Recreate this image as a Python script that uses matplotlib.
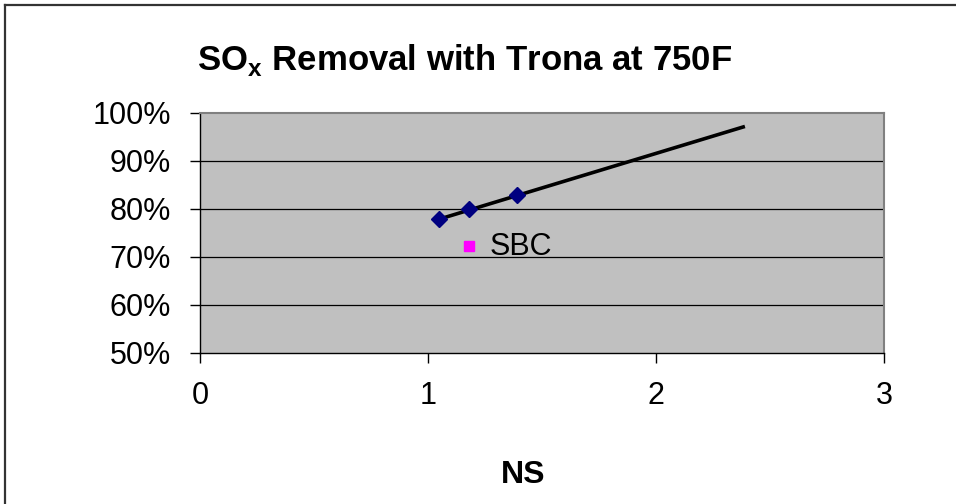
import matplotlib
matplotlib.use("Agg")
import matplotlib.pyplot as plt
from matplotlib.lines import Line2D
from matplotlib.ticker import FuncFormatter

# ---- data ----
ns_values = [1.05, 1.18, 1.39]
removal_values = [0.78, 0.80, 0.83]
trend_x = [1.05, 2.39]
trend_y = [0.779, 0.972]
sbc_x = [1.18]
sbc_y = [0.723]
sbc_label = "SBC"
x_ticks = [0, 1, 2, 3]
y_ticks = [0.5, 0.6, 0.7, 0.8, 0.9, 1.0]
title_text = r"SO$_\mathbf{x}$ Removal with Trona at 750F"
x_label = "NS"

plt.rcParams['font.family'] = ['Liberation Sans', 'DejaVu Sans']
plt.rcParams['mathtext.fontset'] = 'custom'
plt.rcParams['mathtext.rm'] = 'Liberation Sans'
plt.rcParams['mathtext.bf'] = 'Liberation Sans:bold'

W, H = 956, 504
fig = plt.figure(figsize=(W / 100, H / 100), dpi=100)
fig.patch.set_facecolor('white')

# outer frame (left and top visible)
fig.add_artist(Line2D([5 / W, 5 / W], [0, 1 - 5 / H], color='#333333', lw=1.6))
fig.add_artist(Line2D([5 / W, 1], [1 - 5 / H, 1 - 5 / H], color='#333333', lw=1.6))

left, right, top, bottom = 200, 884, 113, 353
ax = fig.add_axes([left / W, 1 - bottom / H, (right - left) / W, (bottom - top) / H])
ax.set_facecolor('#c0c0c0')
ax.set_xlim(0, 3)
ax.set_ylim(0.5, 1.0)

for y in y_ticks[1:-1]:
    ax.axhline(y, color='#000000', lw=0.9, zorder=1)

ax.plot(trend_x, trend_y, color='black', lw=2.6, zorder=3, solid_capstyle='butt')
ax.plot(ns_values, removal_values, linestyle='none', marker='D', markersize=8,
        color='#000080', markeredgecolor='#000080', zorder=4)
ax.plot(sbc_x, sbc_y, linestyle='none', marker='s', markersize=7.5,
        color='#ff00ff', markeredgecolor='#ff00ff', zorder=4)
ax.annotate(sbc_label, (sbc_x[0], sbc_y[0]), xytext=(15, -1), textcoords='offset points',
            fontsize=22, va='center', ha='left', color='black', zorder=5)

ax.set_xticks(x_ticks)
ax.set_yticks(y_ticks)
ax.yaxis.set_major_formatter(FuncFormatter(lambda v, p: f"{v*100:.0f}%"))
ax.tick_params(axis='both', direction='out', length=7, width=1, color='black',
               labelsize=22, labelcolor='black')
ax.tick_params(axis='x', pad=13)
ax.tick_params(axis='y', pad=14)

for s in ['top', 'right']:
    ax.spines[s].set_color('#808080')
    ax.spines[s].set_linewidth(1.5)
for s in ['left', 'bottom']:
    ax.spines[s].set_color('black')
    ax.spines[s].set_linewidth(1.0)

fig.text(197 / W, 1 - 70 / H, title_text, fontsize=25, fontweight='bold',
         ha='left', va='baseline')
fig.text(523 / W, 1 - 483 / H, x_label, fontsize=23, fontweight='bold',
         ha='center', va='baseline')

fig.savefig('out.png', dpi=100, facecolor='white')
